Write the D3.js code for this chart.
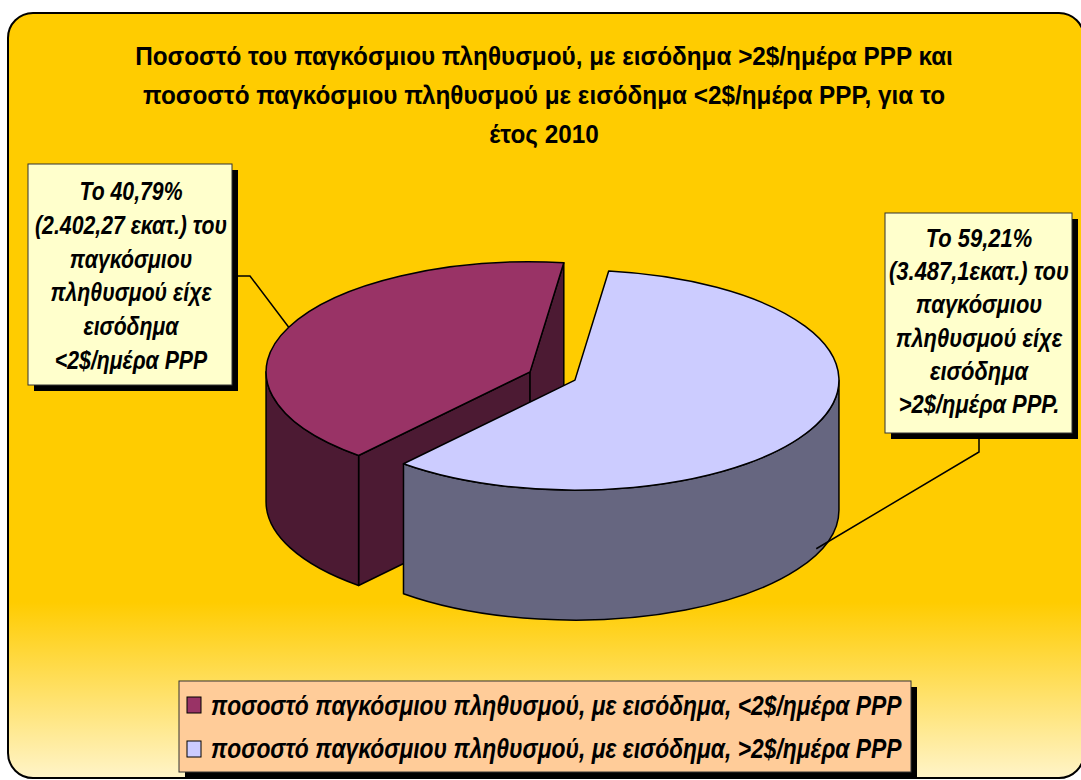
<!DOCTYPE html>
<html>
<head>
<meta charset="utf-8">
<script src="https://cdn.jsdelivr.net/npm/d3@7"></script>
<style>
  body { margin: 0; background: #fff; }
  svg { display: block; }
  text { font-family: "Liberation Sans", Arial, sans-serif; font-weight: bold; }
</style>
</head>
<body>
<div id="chart"></div>
<script>
// Data
const categories = [
    "ποσοστό παγκόσμιου πληθυσμού, με εισόδημα, <2$/ημέρα PPP",
    "ποσοστό παγκόσμιου πληθυσμού, με εισόδημα, >2$/ημέρα PPP"
];
const shares = [40.79, 59.21];
const titleLines = [
    "Ποσοστό του παγκόσμιου πληθυσμού, με εισόδημα >2$/ημέρα PPP και",
    "ποσοστό παγκόσμιου πληθυσμού με εισόδημα <2$/ημέρα PPP, για το",
    "έτος 2010"
];
const labelLow = ["Το 40,79%", "(2.402,27 εκατ.) του", "παγκόσμιου", "πληθυσμού είχε", "εισόδημα", "<2$/ημέρα PPP"];
const labelHigh = ["Το 59,21%", "(3.487,1εκατ.) του", "παγκόσμιου", "πληθυσμού είχε", "εισόδημα", ">2$/ημέρα PPP."];

const topColors = ["#993366", "#CCCCFF"];
const wallColors = ["#4C1A33", "#666680"];

function draw() {
    const width = 1081, height = 780;

    const svg = d3.select("#chart")
        .append("svg")
        .attr("width", width)
        .attr("height", height);

    // Background panel
    const grad = svg.append("defs").append("linearGradient")
        .attr("id", "bg")
        .attr("x1", 0).attr("y1", 0).attr("x2", 0).attr("y2", 1);
    grad.append("stop").attr("offset", 0).attr("stop-color", "#FFCC00");
    grad.append("stop").attr("offset", 0.77).attr("stop-color", "#FFCC00");
    grad.append("stop").attr("offset", 1).attr("stop-color", "#FFF4C8");

    svg.append("rect")
        .attr("x", 8).attr("y", 13)
        .attr("width", 1076).attr("height", 765)
        .attr("rx", 25)
        .attr("fill", "url(#bg)")
        .attr("stroke", "#000")
        .attr("stroke-width", 2);

    // fit a block of lines to a given width by condensing horizontally
    function textBlock(lines, x, y0, step, size, target, italic, anchor) {
        const g = svg.append("g");
        const t = g.selectAll("text")
            .data(lines)
            .join("text")
            .attr("x", 0)
            .attr("y", (d, i) => y0 + i * step)
            .attr("font-size", size)
            .attr("font-style", italic ? "italic" : "normal")
            .attr("text-anchor", anchor || "middle")
            .attr("fill", "#000")
            .text(d => d);
        const maxW = d3.max(t.nodes(), n => n.getComputedTextLength());
        g.attr("transform", `translate(${x},0) scale(${target / maxW},1)`);
        return g;
    }

    // Title
    textBlock(titleLines, 544, 65, 39, 26, 818, false);

    // 3D pie
    const cx = 552.5, cy = 376, rx = 264, ry = 110, depth = 130, explode = 0.093;
    const pie = d3.pie()
        .sort(null)
        .value(d => d)
        .startAngle(220.5 * Math.PI / 180)
        .endAngle(580.5 * Math.PI / 180);

    const ell = (c, t, dz = 0) => [c[0] + rx * Math.cos(t), c[1] + ry * Math.sin(t) + dz];

    const slices = pie(shares).map((d, i) => {
        const t0 = d.startAngle - Math.PI / 2, t1 = d.endAngle - Math.PI / 2;
        const tm = (t0 + t1) / 2;
        const c = [cx + explode * rx * Math.cos(tm), cy + explode * ry * Math.sin(tm)];
        return { i, t0, t1, tm, c };
    }).sort((a, b) => Math.sin(a.tm) - Math.sin(b.tm));

    const pieG = svg.append("g")
        .attr("stroke", "#000")
        .attr("stroke-width", 1.5)
        .attr("stroke-linejoin", "round");

    slices.forEach(s => {
        const { c, t0, t1, i } = s;
        // radial walls facing the viewer
        const radial = t => `M${c}L${ell(c, t)}L${ell(c, t, depth)}L${[c[0], c[1] + depth]}Z`;
        if (Math.cos(t0) < 0) pieG.append("path").attr("d", radial(t0)).attr("fill", wallColors[i]);
        if (Math.cos(t1) > 0) pieG.append("path").attr("d", radial(t1)).attr("fill", wallColors[i]);
        // outer wall, front half only
        for (let k = Math.floor(t0 / (2 * Math.PI)) - 1; k <= Math.ceil(t1 / (2 * Math.PI)); k++) {
            const a = Math.max(t0, 2 * Math.PI * k), b = Math.min(t1, 2 * Math.PI * k + Math.PI);
            if (b - a > 1e-6) {
                const large = (b - a) > Math.PI ? 1 : 0;
                pieG.append("path")
                    .attr("d", `M${ell(c, a)}A${rx},${ry} 0 ${large} 1 ${ell(c, b)}L${ell(c, b, depth)}A${rx},${ry} 0 ${large} 0 ${ell(c, a, depth)}Z`)
                    .attr("fill", wallColors[i]);
            }
        }
        // top face
        const large = (t1 - t0) > Math.PI ? 1 : 0;
        pieG.append("path")
            .attr("d", `M${c}L${ell(c, t0)}A${rx},${ry} 0 ${large} 1 ${ell(c, t1)}Z`)
            .attr("fill", topColors[i]);
    });

    const byIndex = d3.sort(slices, s => s.i);

    // Leader lines
    const lowEnd = ell(byIndex[0].c, byIndex[0].tm);
    const highEnd = ell(byIndex[1].c, byIndex[1].tm, depth - 6);
    svg.append("path")
        .attr("d", d3.line()([[238, 276], [250, 276], lowEnd]))
        .attr("fill", "none").attr("stroke", "#000").attr("stroke-width", 1.5);
    svg.append("path")
        .attr("d", d3.line()([[979, 438], [979, 452], highEnd]))
        .attr("fill", "none").attr("stroke", "#000").attr("stroke-width", 1.5);

    // Label boxes
    function labelBox(x, y, w, h, fill) {
        svg.append("rect").attr("x", x + 6).attr("y", y + 6).attr("width", w).attr("height", h).attr("fill", "#000");
        svg.append("rect").attr("x", x).attr("y", y).attr("width", w).attr("height", h)
            .attr("fill", fill).attr("stroke", "#333").attr("stroke-width", 1);
    }
    labelBox(28, 164, 204, 221, "#FFFFCC");
    textBlock(labelLow, 131, 200, 33.8, 26, 192, true);

    labelBox(885, 213, 187, 220, "#FFFFCC");
    textBlock(labelHigh, 979, 247, 33.2, 26, 180, true);

    // Legend
    labelBox(179, 681, 732, 91, "#FFCC99");
    svg.selectAll(".key")
        .data(categories)
        .join("rect")
        .attr("class", "key")
        .attr("x", 187)
        .attr("y", (d, i) => 697 + i * 44)
        .attr("width", 14)
        .attr("height", 16)
        .attr("fill", (d, i) => topColors[i])
        .attr("stroke", "#000")
        .attr("stroke-width", 1);
    textBlock(categories, 211, 715, 43, 27, 691, true, "start");
}

draw();
</script>
</body>
</html>
